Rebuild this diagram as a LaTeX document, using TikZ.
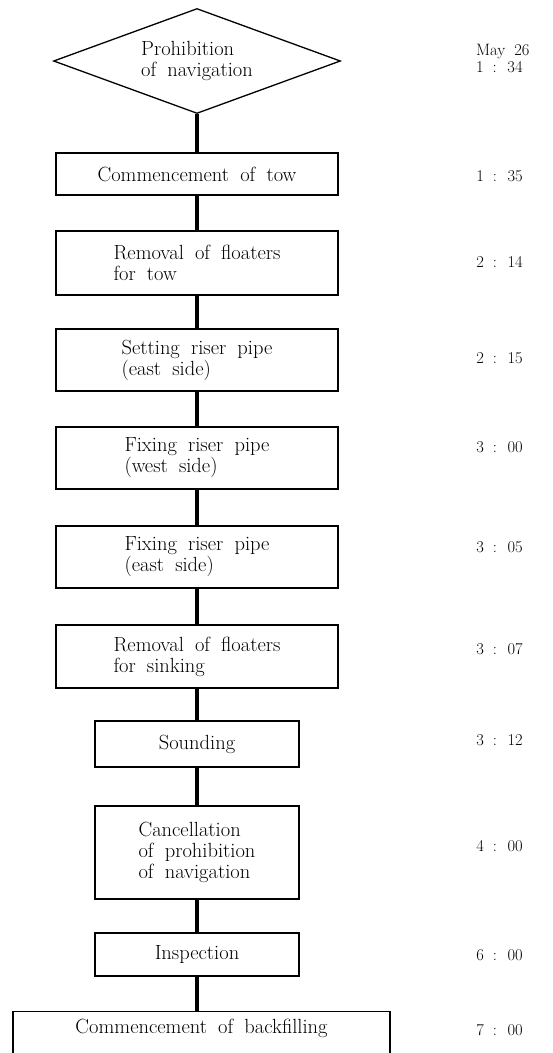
\documentclass[tikz,border=0pt]{standalone}
\usepackage{fontspec}
\setmainfont{Latin Modern Roman}[WordSpace=1.8]
\usetikzlibrary{shapes.geometric}

\tikzset{
  stepbox/.style={draw, line width=1.3pt, inner sep=0pt, align=left,
    font=\fontsize{20.5}{21}\selectfont},
  timetag/.style={anchor=east, inner sep=0pt, font=\fontsize{16.5}{18}\selectfont},
  flowlink/.style={line width=3.2pt}
}

\begin{document}
\begin{tikzpicture}[x=1pt,y=1pt,yscale=-1]
\useasboundingbox (0,0) rectangle (553,1053);

%Shape: Diamond
\node (prohib) [stepbox, diamond, shape aspect=2.7, minimum width=287pt, minimum height=105pt] at (197,61) {Prohibition\\of navigation};

%Shape: Rectangle
\node (tow) [stepbox, minimum width=282pt, minimum height=42pt] at (197,174) {Commencement of tow};
%Shape: Rectangle
\node (floatow) [stepbox, minimum width=282pt, minimum height=64pt] at (197,263) {Removal of floaters\\for tow};
%Shape: Rectangle
\node (seteast) [stepbox, minimum width=282pt, minimum height=62pt] at (197,360) {Setting riser pipe\\(east side)};
%Shape: Rectangle
\node (fixwest) [stepbox, minimum width=282pt, minimum height=62pt] at (197,458) {Fixing riser pipe\\(west side)};
%Shape: Rectangle
\node (fixeast) [stepbox, minimum width=282pt, minimum height=62pt] at (197,557) {Fixing riser pipe\\(east side)};
%Shape: Rectangle
\node (floatsink) [stepbox, minimum width=282pt, minimum height=63pt] at (197,656.5) {Removal of floaters\\for sinking};
%Shape: Rectangle
\node (sound) [stepbox, minimum width=204pt, minimum height=46pt] at (197,744) {Sounding};
%Shape: Rectangle
\node (cancel) [stepbox, minimum width=204pt, minimum height=93pt] at (197,852.5) {Cancellation\\of prohibition\\of navigation};
%Shape: Rectangle
\node (inspect) [stepbox, minimum width=204pt, minimum height=43pt] at (197,954.5) {Inspection};
%Shape: Rectangle (runs off the page)
\node (backfill) [stepbox, anchor=north, minimum width=377pt, text height=22pt, text depth=30pt] at (201.5,1011) {Commencement of backfilling};

%Straight Lines
\draw [flowlink] (prohib.south) -- (tow.north);
\draw [flowlink] (tow.south) -- (floatow.north);
\draw [flowlink] (floatow.south) -- (seteast.north);
\draw [flowlink] (seteast.south) -- (fixwest.north);
\draw [flowlink] (fixwest.south) -- (fixeast.north);
\draw [flowlink] (fixeast.south) -- (floatsink.north);
\draw [flowlink] (floatsink.south) -- (sound.north);
\draw [flowlink] (sound.south) -- (cancel.north);
\draw [flowlink] (cancel.south) -- (inspect.north);
\draw [flowlink] (inspect.south) -- (inspect.south |- backfill.north);

% Text Node
\node (tmay) [timetag, anchor=base west] at (476,55) {May 26};
% Text Node
\node (t134) [timetag, anchor=base west] at (476,72) {1 : 34};
% Text Node
\node (t135) [timetag] at (523,176) {1 : 35};
% Text Node
\node (t214) [timetag] at (523,262) {2 : 14};
% Text Node
\node (t215) [timetag] at (523,358) {2 : 15};
% Text Node
\node (t300) [timetag] at (523,447) {3 : 00};
% Text Node
\node (t305) [timetag] at (523,547) {3 : 05};
% Text Node
\node (t307) [timetag] at (523,649) {3 : 07};
% Text Node
\node (t312) [timetag] at (523,740) {3 : 12};
% Text Node
\node (t400) [timetag] at (523,846) {4 : 00};
% Text Node
\node (t600) [timetag] at (523,955) {6 : 00};
% Text Node
\node (t700) [timetag] at (523,1030) {7 : 00};

\end{tikzpicture}
\end{document}
